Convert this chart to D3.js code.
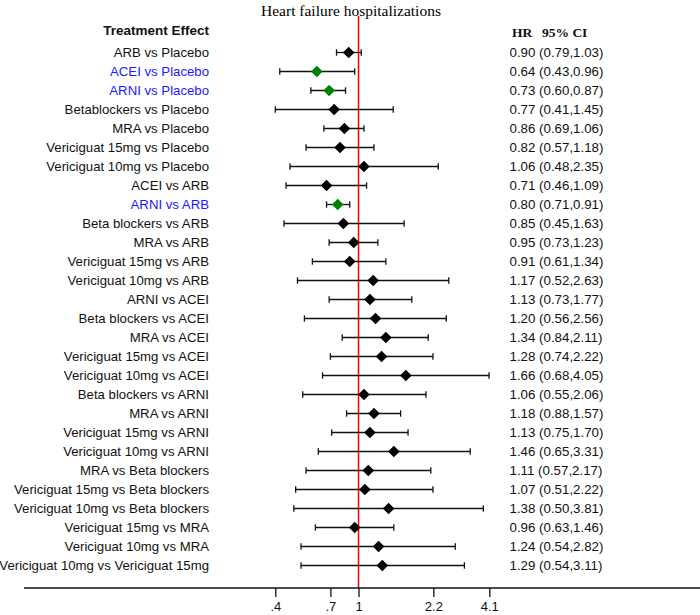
<!DOCTYPE html>
<html>
<head>
<meta charset="utf-8">
<script src="https://cdn.jsdelivr.net/npm/d3@7"></script>
<style>
  html, body { margin: 0; padding: 0; background: #fff; }
  svg { display: block; }
</style>
</head>
<body>
<svg id="chart" width="700" height="615"></svg>
<script>
const comparisons = [
  "ARB vs Placebo", "ACEI vs Placebo", "ARNI vs Placebo", "Betablockers vs Placebo",
  "MRA vs Placebo", "Vericiguat 15mg vs Placebo", "Vericiguat 10mg vs Placebo",
  "ACEI vs ARB", "ARNI vs ARB", "Beta blockers vs ARB", "MRA vs ARB",
  "Vericiguat 15mg vs ARB", "Vericiguat 10mg vs ARB", "ARNI vs ACEI",
  "Beta blockers vs ACEI", "MRA vs ACEI", "Vericiguat 15mg vs ACEI",
  "Vericiguat 10mg vs ACEI", "Beta blockers vs ARNI", "MRA vs ARNI",
  "Vericiguat 15mg vs ARNI", "Vericiguat 10mg vs ARNI", "MRA vs Beta blockers",
  "Vericiguat 15mg vs Beta blockers", "Vericiguat 10mg vs Beta blockers",
  "Vericiguat 15mg vs MRA", "Vericiguat 10mg vs MRA", "Vericiguat 10mg vs Vericiguat 15mg"
];
const hr    = [0.90,0.64,0.73,0.77,0.86,0.82,1.06,0.71,0.80,0.85,0.95,0.91,1.17,1.13,1.20,1.34,1.28,1.66,1.06,1.18,1.13,1.46,1.11,1.07,1.38,0.96,1.24,1.29];
const lower = [0.79,0.43,0.60,0.41,0.69,0.57,0.48,0.46,0.71,0.45,0.73,0.61,0.52,0.73,0.56,0.84,0.74,0.68,0.55,0.88,0.75,0.65,0.57,0.51,0.50,0.63,0.54,0.54];
const upper = [1.03,0.96,0.87,1.45,1.06,1.18,2.35,1.09,0.91,1.63,1.23,1.34,2.63,1.77,2.56,2.11,2.22,4.05,2.06,1.57,1.70,3.31,2.17,2.22,3.81,1.46,2.82,3.11];
const significant = ["ACEI vs Placebo", "ARNI vs Placebo", "ARNI vs ARB"];
const tickValues = [0.41, 0.74, 1, 2.23, 4.06];
const tickLabels = [".4", ".7", "1", "2.2", "4.1"];
const titleText = "Heart failure hospitalizations";

const rows = comparisons.map((c, i) => ({
  name: c, hr: hr[i], lo: lower[i], hi: upper[i], sig: significant.includes(c)
}));

const svg = d3.select("#chart");
const sans = "Arial, 'Liberation Sans', sans-serif";
const serif = "'Times New Roman', 'Liberation Serif', serif";

const x = d3.scaleLog().domain([0.41, 4.06]).range([275.3, 489.3]);
const y = d3.scalePoint().domain(comparisons).range([52.5, 565.5]);
const axisY = 588;

// title
svg.append("text").attr("x", 351).attr("y", 15.5)
  .attr("text-anchor", "middle")
  .attr("font-family", serif).attr("font-size", 15.5)
  .attr("fill", "#000").text(titleText);

// headers
svg.append("text").attr("x", 209).attr("y", 35)
  .attr("text-anchor", "end").attr("font-family", sans)
  .attr("font-weight", "bold").attr("font-size", 13.5)
  .attr("fill", "#111").text("Treatment Effect");
svg.append("text").attr("x", 512).attr("y", 37)
  .attr("font-family", serif).attr("font-weight", "bold").attr("font-size", 13.5)
  .attr("fill", "#111").text("HR");
svg.append("text").attr("x", 542).attr("y", 37)
  .attr("font-family", serif).attr("font-weight", "bold").attr("font-size", 13.5)
  .attr("fill", "#111").text("95% CI");

// reference line
svg.append("line")
  .attr("x1", x(1)).attr("x2", x(1))
  .attr("y1", 16).attr("y2", axisY)
  .attr("stroke", "#ff0000").attr("stroke-width", 1.5);

// rows
const g = svg.append("g");
const row = g.selectAll("g.row").data(rows).join("g").attr("class", "row")
  .attr("transform", d => `translate(0,${y(d.name)})`);

row.append("text")
  .attr("x", 209).attr("y", 4.7)
  .attr("text-anchor", "end")
  .attr("font-family", sans).attr("font-size", 13.2)
  .attr("fill", d => d.sig ? "#1a1aff" : "#111")
  .text(d => d.name);

row.append("line")
  .attr("x1", d => x(d.lo)).attr("x2", d => x(d.hi))
  .attr("y1", 0).attr("y2", 0)
  .attr("stroke", "#111").attr("stroke-width", 1.3);
row.append("line")
  .attr("x1", d => x(d.lo)).attr("x2", d => x(d.lo))
  .attr("y1", -3.2).attr("y2", 3.2)
  .attr("stroke", "#111").attr("stroke-width", 1.3);
row.append("line")
  .attr("x1", d => x(d.hi)).attr("x2", d => x(d.hi))
  .attr("y1", -3.2).attr("y2", 3.2)
  .attr("stroke", "#111").attr("stroke-width", 1.3);

const dsz = 5.8;
row.append("path")
  .attr("d", d => {
    const cx = x(d.hr);
    return `M${cx},${-dsz}L${cx + dsz},0L${cx},${dsz}L${cx - dsz},0Z`;
  })
  .attr("fill", d => d.sig ? "#008000" : "#000");

row.append("text")
  .attr("x", 509.5).attr("y", 4.7)
  .attr("font-family", sans).attr("font-size", 13.3)
  .attr("fill", "#111")
  .text(d => `${d.hr.toFixed(2)} (${d.lo.toFixed(2)},${d.hi.toFixed(2)})`);

// axis
svg.append("line")
  .attr("x1", 24).attr("x2", 700)
  .attr("y1", axisY).attr("y2", axisY)
  .attr("stroke", "#111").attr("stroke-width", 1.3);

const axis = d3.axisBottom(x)
  .tickValues(tickValues)
  .tickFormat((d, i) => tickLabels[i])
  .tickSize(9).tickPadding(5).tickSizeOuter(0);

const ax = svg.append("g").attr("transform", `translate(0,${axisY})`).call(axis);
ax.select(".domain").remove();
ax.selectAll(".tick line").attr("stroke", "#111").attr("stroke-width", 1.3);
ax.selectAll(".tick text").attr("font-family", sans).attr("font-size", 13).attr("fill", "#111");
</script>
</body>
</html>
